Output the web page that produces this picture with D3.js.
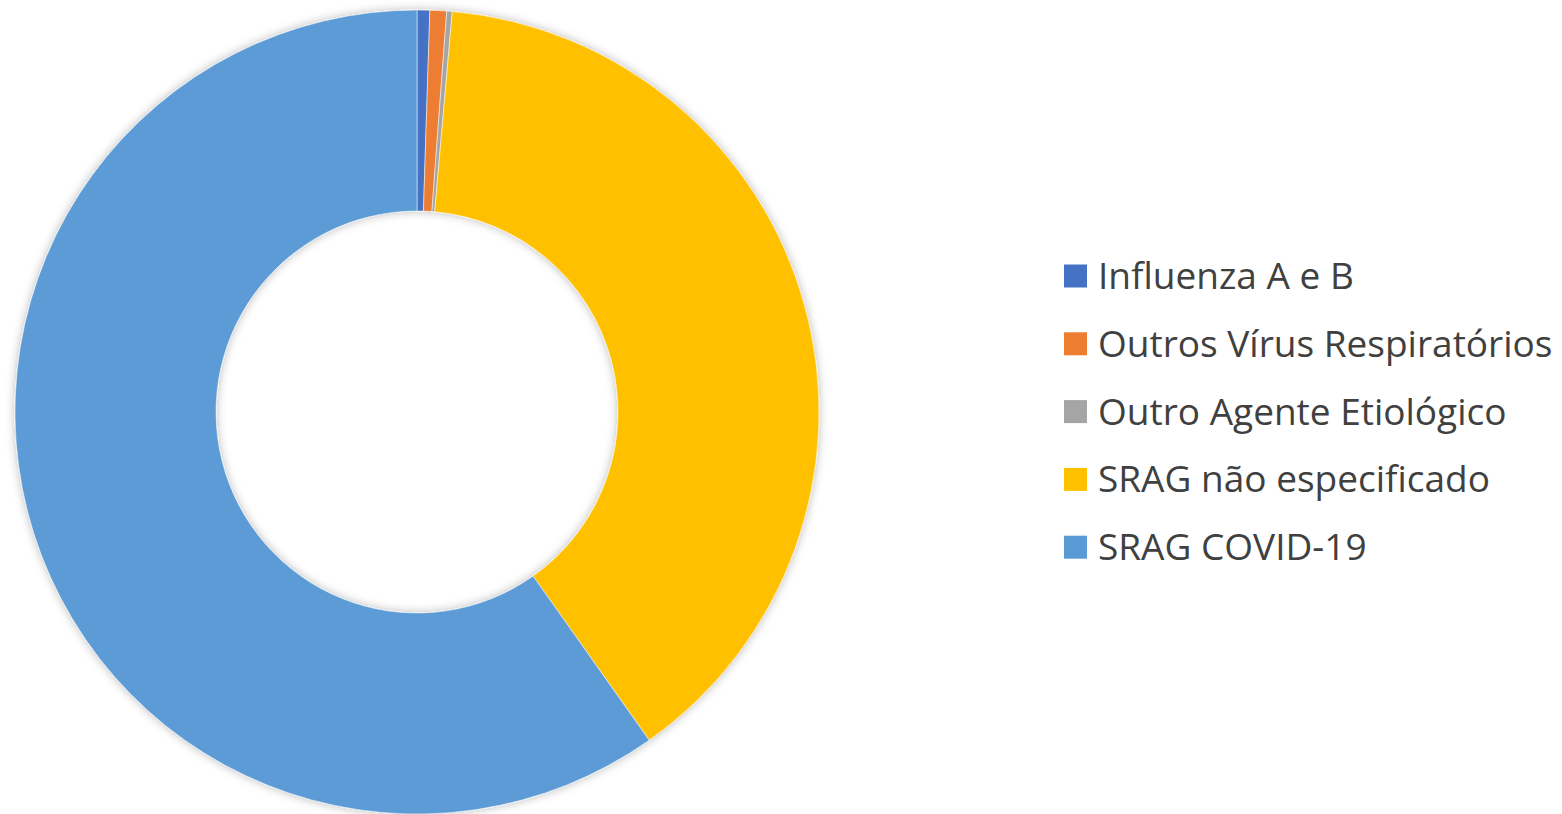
<!DOCTYPE html>
<html>
<head>
<meta charset="utf-8">
<script src="https://cdn.jsdelivr.net/npm/d3@7"></script>
<style>
  html, body { margin: 0; padding: 0; background: #fff; }
  svg { display: block; }
</style>
</head>
<body>
<svg width="1562" height="814"></svg>
<script>
(function() {
	// values (percent of total)
	var categories = ["Influenza A e B", "Outros Vírus Respiratórios", "Outro Agente Etiológico", "SRAG não especificado", "SRAG COVID-19"];
	var values = [0.51, 0.67, 0.22, 38.8, 59.8];
	var colors = ["#4472C4", "#ED7D31", "#A5A5A5", "#FFC000", "#5B9BD5"];

	var svg = d3.select("svg");
	var cx = 417, cy = 412, outerR = 402, innerR = 201;

	// soft shadow like the office chart
	var defs = svg.append("defs");
	var f = defs.append("filter").attr("id", "shadow")
	  .attr("x", "-10%").attr("y", "-10%").attr("width", "120%").attr("height", "120%");
	f.append("feDropShadow").attr("dx", 0).attr("dy", 0)
	  .attr("stdDeviation", 5).attr("flood-color", "#000").attr("flood-opacity", 0.28);

	var pie = d3.pie().sort(null).value(function(d) { return d; });
	var arc = d3.arc().innerRadius(innerR).outerRadius(outerR);

	var g = svg.append("g").attr("transform", "translate(" + cx + "," + cy + ")")
	  .attr("filter", "url(#shadow)");

	g.selectAll("path")
	  .data(pie(values))
	  .enter().append("path")
	  .attr("d", arc)
	  .style("fill", function(d, i) { return colors[i]; })
	  .style("stroke", "#fff")
	  .style("stroke-width", "0.5px");

	// legend
	var legend = svg.append("g").attr("transform", "translate(1064,276)");
	var rows = legend.selectAll("g")
	  .data(categories)
	  .enter().append("g")
	  .attr("transform", function(d, i) { return "translate(0," + (i * 67.8) + ")"; });

	rows.append("rect")
	  .attr("x", 0).attr("y", -11.5)
	  .attr("width", 23).attr("height", 23)
	  .style("fill", function(d, i) { return colors[i]; });

	rows.append("text")
	  .attr("x", 34).attr("y", 0)
	  .attr("dy", "0.35em")
	  .style("font-family", "'Open Sans', sans-serif")
	  .style("font-size", "37px")
	  .style("fill", "#404040")
	  .text(function(d) { return d; });
})();
</script>
</body>
</html>
